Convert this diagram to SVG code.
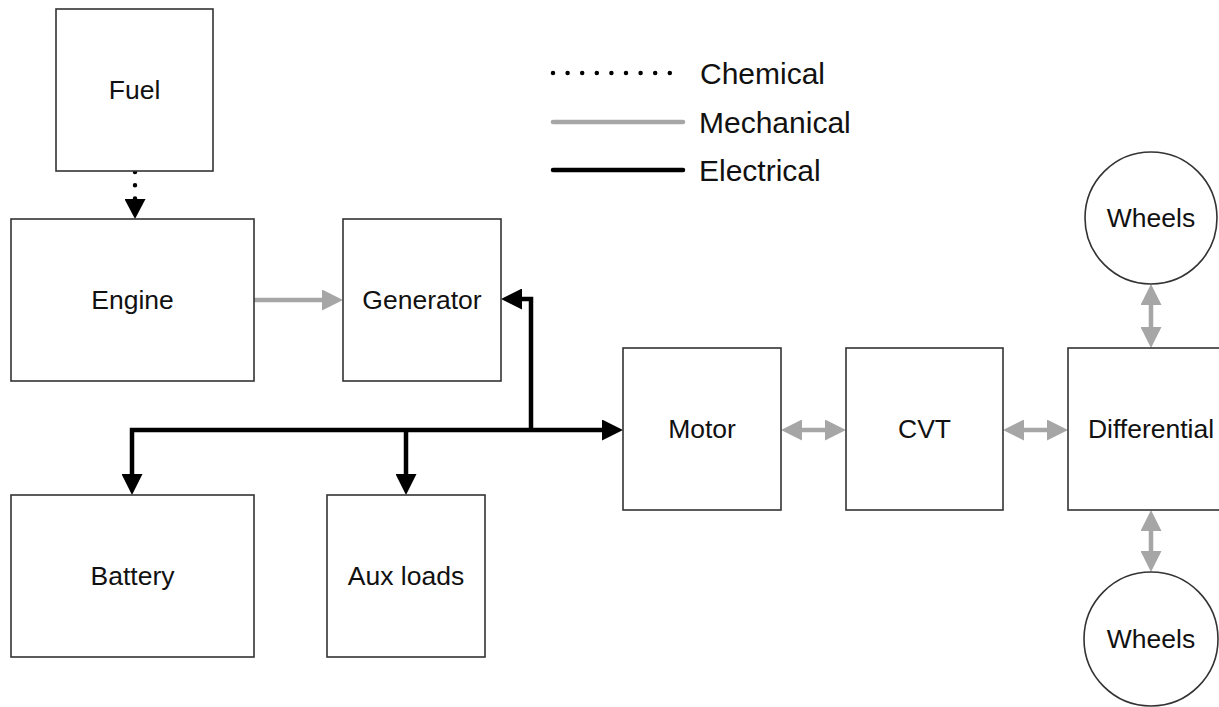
<svg xmlns="http://www.w3.org/2000/svg" width="1219" height="707" viewBox="0 0 1219 707">
<style>
.box{fill:#fff;stroke:#333;stroke-width:1.6}
.lbl{font-family:"Liberation Sans",Arial,sans-serif;font-size:26.5px;fill:#111;text-anchor:middle;dominant-baseline:central}
.leg{font-family:"Liberation Sans",Arial,sans-serif;font-size:30px;fill:#111;dominant-baseline:central}
.elec{fill:none;stroke:#000;stroke-width:4.5;stroke-linejoin:miter}
.mech{fill:none;stroke:#a6a6a6;stroke-width:4.5}
.chem{fill:none;stroke:#000;stroke-width:4.5;stroke-linecap:round}
</style>
<defs>
<marker id="ah-black" markerUnits="userSpaceOnUse" viewBox="0 0 21 21" refX="9" refY="10.5" markerWidth="21" markerHeight="21" orient="auto-start-reverse"><path d="M0,0 L21,10.5 L0,21 z" fill="#000"/></marker>
<marker id="ah-chem" markerUnits="userSpaceOnUse" viewBox="0 0 20 21" refX="0" refY="10.5" markerWidth="20" markerHeight="21" orient="auto"><path d="M0,0 L20,10.5 L0,21 z" fill="#000"/></marker>
<marker id="ah-gray" markerUnits="userSpaceOnUse" viewBox="0 0 21 21" refX="9" refY="10.5" markerWidth="21" markerHeight="21" orient="auto-start-reverse"><path d="M0,0 L21,10.5 L0,21 z" fill="#a6a6a6"/></marker>
</defs>
<rect width="1219" height="707" fill="#fff"/>

<g id="legend">
<path class="chem" d="M553,73 L670,73" stroke-dasharray="0 14.6"/>
<text class="leg" x="700" y="73">Chemical</text>
<path class="mech" d="M553,122 L683,122" stroke-linecap="round"/>
<text class="leg" x="699" y="122">Mechanical</text>
<path class="elec" d="M553,170 L683,170" stroke-linecap="round"/>
<text class="leg" x="699" y="170">Electrical</text>
</g>

<g id="connectors">
<path class="chem" d="M135,172 L135,199" stroke-dasharray="0 13.3" marker-end="url(#ah-chem)"/>
<path class="mech" d="M254,300 L331,300" marker-end="url(#ah-gray)"/>
<path class="elec" d="M132,483 L132,430 L611,430" marker-start="url(#ah-black)" marker-end="url(#ah-black)"/>
<path class="elec" d="M406,430 L406,483" marker-end="url(#ah-black)"/>
<path class="elec" d="M531,430 L531,299 L513,299" marker-end="url(#ah-black)"/>
<path class="mech" d="M793,430 L834,430" marker-start="url(#ah-gray)" marker-end="url(#ah-gray)"/>
<path class="mech" d="M1015,430 L1056,430" marker-start="url(#ah-gray)" marker-end="url(#ah-gray)"/>
<path class="mech" d="M1151,296 L1151,336" marker-start="url(#ah-gray)" marker-end="url(#ah-gray)"/>
<path class="mech" d="M1151,522 L1151,560" marker-start="url(#ah-gray)" marker-end="url(#ah-gray)"/>
</g>

<g id="fuel"><rect class="box" x="56" y="9" width="157" height="162"/><text class="lbl" x="134.5" y="90">Fuel</text></g>
<g id="engine"><rect class="box" x="11" y="219" width="243" height="162"/><text class="lbl" x="132.5" y="300">Engine</text></g>
<g id="generator"><rect class="box" x="343" y="219" width="158" height="162"/><text class="lbl" x="422" y="300">Generator</text></g>
<g id="battery"><rect class="box" x="11" y="495" width="243" height="162"/><text class="lbl" x="132.5" y="576">Battery</text></g>
<g id="aux-loads"><rect class="box" x="327" y="495" width="158" height="162"/><text class="lbl" x="406" y="576">Aux loads</text></g>
<g id="motor"><rect class="box" x="623" y="348" width="158" height="162"/><text class="lbl" x="702" y="429">Motor</text></g>
<g id="cvt"><rect class="box" x="846" y="348" width="157" height="162"/><text class="lbl" x="924.5" y="429">CVT</text></g>
<g id="differential"><rect class="box" x="1068" y="348" width="166" height="162"/><text class="lbl" x="1151" y="429">Differential</text></g>
<g id="wheels-top"><circle class="box" cx="1151" cy="218" r="66"/><text class="lbl" x="1151" y="218">Wheels</text></g>
<g id="wheels-bottom"><circle class="box" cx="1151" cy="639" r="67"/><text class="lbl" x="1151" y="639">Wheels</text></g>
</svg>
